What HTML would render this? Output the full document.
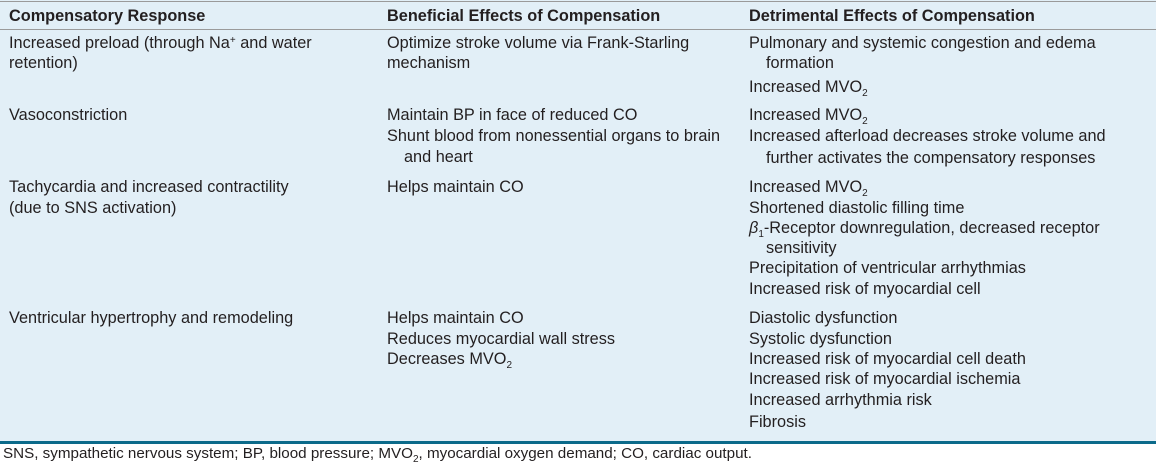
<!DOCTYPE html>
<html><head><meta charset="utf-8"><style>
html,body{margin:0;padding:0;background:#fff;}
#w{position:relative;width:1156px;height:470px;overflow:hidden;font-family:"Liberation Sans",sans-serif;color:#231f20;}
#bg{position:absolute;left:0;top:0;width:1156px;height:442px;background:#e2eff7;}
.l{position:absolute;white-space:nowrap;font-size:16.3px;line-height:20px;}
.h{font-weight:bold;}
sub{font-size:10px;vertical-align:-4px;line-height:0;}
sup{font-size:10px;vertical-align:5px;line-height:0;}
</style></head><body><div id="w">
<div id="bg"></div>
<div style="position:absolute;left:0;top:1px;width:1156px;height:1px;background:#9a9a9a"></div>
<div style="position:absolute;left:0;top:29px;width:1156px;height:1px;background:#9a9a9a"></div>
<div style="position:absolute;left:0;top:441px;width:1156px;height:3px;background:#0b6a8a"></div>

<div class="l h" style="left:9px;top:6px">Compensatory Response</div>
<div class="l h" style="left:387px;top:6px">Beneficial Effects of Compensation</div>
<div class="l h" style="left:749px;top:6px">Detrimental Effects of Compensation</div>

<div class="l" style="left:9px;top:33px">Increased preload (through Na<sup>+</sup> and water</div>
<div class="l" style="left:9px;top:53px">retention)</div>
<div class="l" style="left:387px;top:33px">Optimize stroke volume via Frank-Starling</div>
<div class="l" style="left:387px;top:53px">mechanism</div>
<div class="l" style="left:749px;top:33px">Pulmonary and systemic congestion and edema</div>
<div class="l" style="left:766px;top:53px">formation</div>
<div class="l" style="left:749px;top:77px">Increased MVO<sub>2</sub></div>

<div class="l" style="left:9px;top:105px">Vasoconstriction</div>
<div class="l" style="left:387px;top:105px">Maintain BP in face of reduced CO</div>
<div class="l" style="left:387px;top:126px">Shunt blood from nonessential organs to brain</div>
<div class="l" style="left:404px;top:147px">and heart</div>
<div class="l" style="left:749px;top:105px">Increased MVO<sub>2</sub></div>
<div class="l" style="left:749px;top:126px">Increased afterload decreases stroke volume and</div>
<div class="l" style="left:766px;top:148px">further activates the compensatory responses</div>

<div class="l" style="left:9px;top:177px">Tachycardia and increased contractility</div>
<div class="l" style="left:9px;top:198px">(due to SNS activation)</div>
<div class="l" style="left:387px;top:177px">Helps maintain CO</div>
<div class="l" style="left:749px;top:177px">Increased MVO<sub>2</sub></div>
<div class="l" style="left:749px;top:198px">Shortened diastolic filling time</div>
<div class="l" style="left:749px;top:218px"><i>β</i><sub>1</sub>-Receptor downregulation, decreased receptor</div>
<div class="l" style="left:766px;top:238px">sensitivity</div>
<div class="l" style="left:749px;top:258px">Precipitation of ventricular arrhythmias</div>
<div class="l" style="left:749px;top:279px">Increased risk of myocardial cell</div>

<div class="l" style="left:9px;top:308px">Ventricular hypertrophy and remodeling</div>
<div class="l" style="left:387px;top:308px">Helps maintain CO</div>
<div class="l" style="left:387px;top:329px">Reduces myocardial wall stress</div>
<div class="l" style="left:387px;top:349px">Decreases MVO<sub>2</sub></div>
<div class="l" style="left:749px;top:308px">Diastolic dysfunction</div>
<div class="l" style="left:749px;top:329px">Systolic dysfunction</div>
<div class="l" style="left:749px;top:349px">Increased risk of myocardial cell death</div>
<div class="l" style="left:749px;top:369px">Increased risk of myocardial ischemia</div>
<div class="l" style="left:749px;top:390px">Increased arrhythmia risk</div>
<div class="l" style="left:749px;top:412px">Fibrosis</div>

<div class="l" style="left:3px;top:444px;font-size:15.2px">SNS, sympathetic nervous system; BP, blood pressure; MVO<sub>2</sub>, myocardial oxygen demand; CO, cardiac output.</div>
</div></body></html>
